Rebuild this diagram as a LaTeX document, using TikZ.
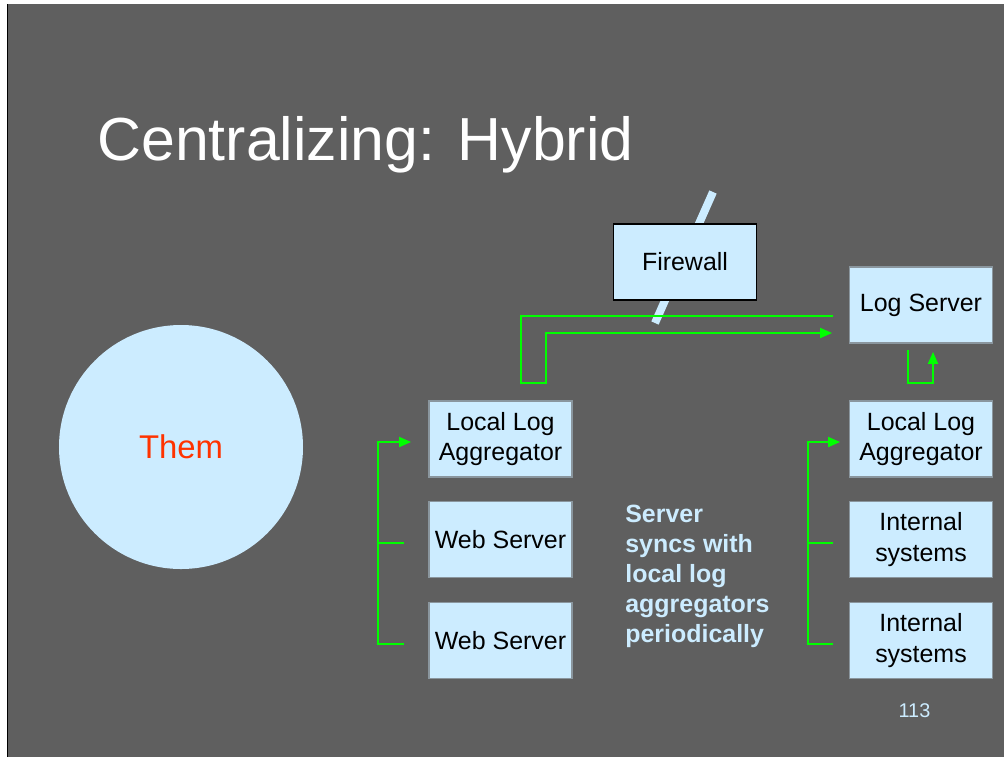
\documentclass[tikz,border=0pt]{standalone}
\usepackage{fontspec}
\setmainfont{Liberation Sans}
\usepackage{tikz}
\usetikzlibrary{positioning, arrows.meta}
\usepackage{xcolor}
\definecolor{slide}{HTML}{5F5F5F}
\definecolor{paleblue}{HTML}{CCECFF}
\definecolor{boxline}{HTML}{8A969E}
\definecolor{themred}{HTML}{FF3300}
\definecolor{linkgreen}{HTML}{00FF00}

\begin{document}
\begin{tikzpicture}[
    box/.style={rectangle, draw=boxline, line width=0.6pt, fill=paleblue, minimum width=2.86cm, minimum height=1.52cm, align=center, inner sep=0pt, font=\fontsize{14.2}{17.6}\selectfont},
    sync/.style={draw=linkgreen, line width=0.8pt},
    sync_arrow/.style={sync, -{Triangle[length=6.8pt,width=5.8pt]}}]

    % Slide background
    \useasboundingbox (0,0) rectangle (20.08,-15.14);
    \fill[white] (0,0) rectangle (20.08,-15.14);
    \fill[slide] (0.16,-0.08) rectangle (20.08,-15.14);
    \draw[black, line width=0.6pt] (0.15,-0.08) -- (0.15,-15.14);

    % Title
    \node[anchor=base west, inner sep=0pt, text=white, font=\fontsize{34.6}{40}\selectfont] (title) at (1.94,-3.2) {Centralizing: Hybrid};

    % Outside world
    \node[circle, fill=paleblue, minimum size=4.88cm, text=themred, font=\fontsize{18.7}{22}\selectfont] (them) at (3.62,-8.94) {Them};

    % Firewall
    \draw[paleblue, line width=0.16cm] (14.26,-3.84) -- (13.10,-6.46);
    \node[box, draw=black] (firewall) at (13.70,-5.24) {Firewall};
    \node[box] (logserver) at (18.42,-6.1) {Log Server};

    % Left column
    \node[box] (agg0) at (10.01,-8.78) {Local Log\\Aggregator};
    \node[box, below=4.7mm of agg0] (web0) {Web Server};
    \node[box, below=4.7mm of web0] (web1) {Web Server};

    % Right column
    \node[box] (agg1) at (18.42,-8.78) {Local Log\\Aggregator};
    \node[box, below=4.7mm of agg1] (int0) {Internal\\systems};
    \node[box, below=4.7mm of int0] (int1) {Internal\\systems};

    % Note
    \node[anchor=west, inner sep=0pt, align=left, text=paleblue, font=\fontsize{14.2}{17.1}\selectfont\bfseries] (note) at (12.5,-11.52) {Server\\syncs with\\local log\\aggregators\\periodically};

    % Page number
    \node[text=paleblue, font=\fontsize{11.3}{13}\selectfont] (page) at (18.29,-14.22) {113};

    % Arrows for the web servers to the left aggregator
    \coordinate (in_agg0) at (8.22,-8.84);
    \coordinate (out_web0) at (8.08,-10.86);
    \coordinate (out_web1) at (8.08,-12.88);
    \draw [sync_arrow] (out_web1) -- (7.56,-12.88) |- (in_agg0);
    \draw [sync] (out_web0) -- (7.56,-10.86);

    % Arrows for the internal systems to the right aggregator
    \coordinate (in_agg1) at (16.80,-8.84);
    \coordinate (out_int0) at (16.66,-10.86);
    \coordinate (out_int1) at (16.66,-12.88);
    \draw [sync_arrow] (out_int1) -- (16.16,-12.88) |- (in_agg1);
    \draw [sync] (out_int0) -- (16.16,-10.86);

    % Sync through the firewall
    \coordinate (from_log) at (16.66,-6.32);
    \coordinate (to_log) at (16.64,-6.66);
    \draw [sync_arrow] (from_log) -| (10.42,-7.66) -- (10.92,-7.66) |- (to_log);

    % Sync with the inside aggregator
    \coordinate (from_inside) at (18.16,-7.0);
    \coordinate (to_inside) at (18.66,-7.04);
    \draw [sync_arrow] (from_inside) -- (18.16,-7.66) -| (to_inside);
\end{tikzpicture}
\end{document}
